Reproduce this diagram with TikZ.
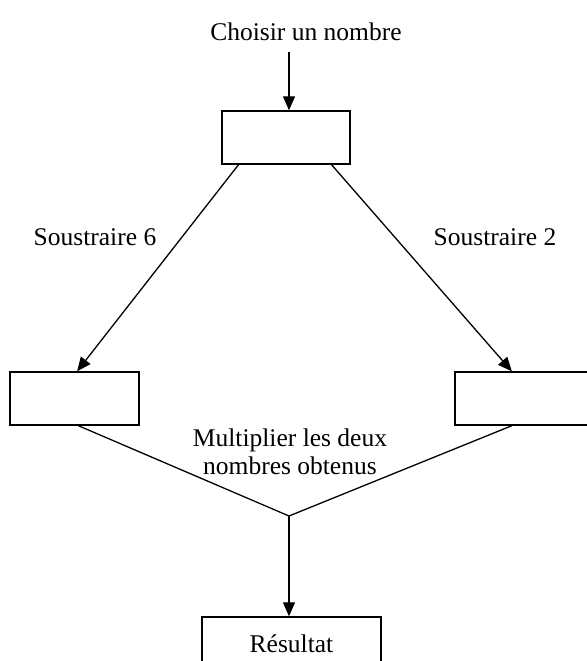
\documentclass[tikz,border=0pt]{standalone}
\usepackage{fontspec}
\setmainfont{Liberation Serif}
\usetikzlibrary{arrows.meta,calc}

\begin{document}
\begin{tikzpicture}[x=0.5pt,y=-0.5pt,
    font=\fontsize{12.75}{14}\selectfont,
    boite/.style={draw,line width=0.7pt,minimum width=64pt,minimum height=26.5pt,inner sep=0pt},
    trait/.style={line width=0.65pt},
    fleche/.style={trait,-{Triangle[length=7pt,width=6pt]}}]
    \useasboundingbox (0,0) rectangle (587,661);
    \clip (0,0) rectangle (587,661);

    \node (choisir) at (306,32) {Choisir un nombre};
    \coordinate (depart) at (289,52);
    \node[boite] (haut) at (286,137.5) {};
    \node[boite,minimum width=64.5pt] (gauche) at (74.5,398.5) {};
    \node[boite,minimum width=70pt] (droite) at (525,398.5) {};
    \node[boite,minimum width=89.5pt] (resultat) at (291.5,643.5) {Résultat};
    \coordinate (produit) at (289,516);

    \node (moins6) at (95,237) {Soustraire 6};
    \node (moins2) at (495,237) {Soustraire 2};
    \node[align=center] (multiplier) at (290,452) {Multiplier les deux\\nombres obtenus};

    \draw[fleche] (depart) -- (depart |- haut.north);
    \draw[fleche] ($(haut.south west)!.133!(haut.south east)$) -- ($(gauche.north west)!.52!(gauche.north east)$);
    \draw[fleche] ($(haut.south west)!.852!(haut.south east)$) -- ($(droite.north west)!.407!(droite.north east)$);
    \foreach \b/\p in {gauche/.53,droite/.407}{
        \draw[trait] ($(\b.south west)!\p!(\b.south east)$) -- (produit);
    }
    \draw[fleche] (produit) -- (produit |- resultat.north);
\end{tikzpicture}
\end{document}
